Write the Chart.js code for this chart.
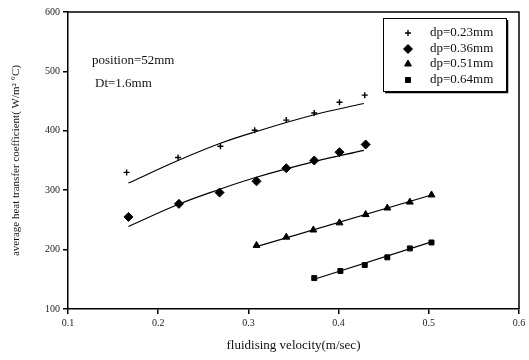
<!DOCTYPE html>
<html><head><meta charset="utf-8">
<script src="https://cdn.jsdelivr.net/npm/chart.js@4.4.1/dist/chart.umd.min.js"></script>
<style>html,body{margin:0;padding:0;background:#fff}#wrap{width:529px;height:360px}</style>
</head><body><div id="wrap"><canvas id="c" width="529" height="360"></canvas></div>
<script>
// ---- data ----
const seriesLabels = ['dp=0.23mm', 'dp=0.36mm', 'dp=0.51mm', 'dp=0.64mm'];
const x023 = [0.165, 0.222, 0.269, 0.307, 0.342, 0.373, 0.401, 0.429];
const y023 = [330, 355, 374, 401, 418, 430, 448, 460];
const x036 = [0.167, 0.223, 0.268, 0.309, 0.342, 0.373, 0.401, 0.430];
const y036 = [255, 277, 296, 315, 337, 350, 364, 377];
const x051 = [0.309, 0.342, 0.372, 0.401, 0.430, 0.454, 0.479, 0.503];
const y051 = [207, 221, 233, 245, 259, 270, 280, 292];
const x064 = [0.373, 0.402, 0.429, 0.454, 0.479, 0.503];
const y064 = [152, 164, 174, 187, 202, 212];
// fitted curves
const fitX023 = [0.167, 0.222, 0.269, 0.307, 0.373, 0.428];
const fitY023 = [312, 350, 379, 398, 427, 446];
const fitX036 = [0.167, 0.222, 0.269, 0.307, 0.373, 0.428];
const fitY036 = [239, 276, 302, 321, 348, 367];
const fitX051 = [0.309, 0.503];
const fitY051 = [205, 292];
const fitX064 = [0.373, 0.503];
const fitY064 = [150, 213];
const xTicks = [0.1, 0.2, 0.3, 0.4, 0.5, 0.6];
const yTicks = [100, 200, 300, 400, 500, 600];
const annotations = ['position=52mm', 'Dt=1.6mm'];
const xTitle = 'fluidising velocity(m/sec)';
const yTitle = 'average heat transfer coefficient( W/m\u00B2 \u00B0C)';

const pts = (xs, ys) => xs.map((x, i) => ({x: x, y: ys[i]}));
const styles = [
  {pointStyle: 'cross', radius: 3, bw: 1.4},
  {pointStyle: 'rectRot', radius: 4.5, bw: 1},
  {pointStyle: 'triangle', radius: 4, bw: 1},
  {pointStyle: 'rect', radius: 3.5, bw: 1}
];
const dataSets = [[x023, y023], [x036, y036], [x051, y051], [x064, y064]];
const fits = [[fitX023, fitY023, 0.4], [fitX036, fitY036, 0.4], [fitX051, fitY051, 0], [fitX064, fitY064, 0]];

const datasets = [];
fits.forEach(f => datasets.push({
  type: 'line', data: pts(f[0], f[1]), borderColor: '#000', borderWidth: 1.2,
  pointRadius: 0, tension: f[2], fill: false
}));
dataSets.forEach((d, i) => datasets.push({
  type: 'scatter', label: seriesLabels[i], data: pts(d[0], d[1]),
  pointStyle: styles[i].pointStyle, pointRadius: styles[i].radius,
  backgroundColor: '#000', borderColor: '#000', borderWidth: styles[i].bw, showLine: false
}));

const font = 'Liberation Serif';
const extras = {
  id: 'extras',
  afterDraw(chart) {
    const ctx = chart.ctx, a = chart.chartArea;
    ctx.save();
    ctx.strokeStyle = '#000'; ctx.lineWidth = 1.5;
    ctx.beginPath();
    ctx.moveTo(a.left, a.top); ctx.lineTo(a.right, a.top); ctx.lineTo(a.right, a.bottom);
    ctx.stroke();
    // annotations
    ctx.fillStyle = '#111'; ctx.font = '13px "' + font + '"';
    ctx.textBaseline = 'middle'; ctx.textAlign = 'left';
    ctx.fillText(annotations[0], 92, 61);
    ctx.fillText(annotations[1], 95, 84);
    // legend box
    const L = 383, T = 18, R = 506, B = 91;
    ctx.lineWidth = 1; ctx.strokeStyle = '#000';
    ctx.strokeRect(L + 0.5, T + 0.5, R - L, B - T);
    ctx.lineWidth = 1.5;
    ctx.beginPath();
    ctx.moveTo(L + 2, B + 1.5); ctx.lineTo(R + 1.5, B + 1.5); ctx.lineTo(R + 1.5, T + 2);
    ctx.stroke();
    const rows = [33, 49, 64, 80];
    seriesLabels.forEach((lab, i) => {
      const st = styles[i];
      ctx.fillStyle = '#000'; ctx.strokeStyle = '#000'; ctx.lineWidth = st.bw;
      Chart.helpers.drawPoint(ctx, {pointStyle: st.pointStyle, radius: st.radius, borderWidth: st.bw, rotation: 0}, 408, rows[i]);
      ctx.fillStyle = '#111';
      ctx.font = '13px "' + font + '"';
      ctx.fillText(lab, 430, rows[i]);
    });
    ctx.restore();
  }
};

new Chart(document.getElementById('c'), {
  data: {datasets: datasets},
  options: {
    responsive: false, animation: false, devicePixelRatio: 1,
    layout: {padding: {left: 0, top: 12, right: 10, bottom: 0}},
    plugins: {legend: {display: false}, tooltip: {enabled: false}},
    scales: {
      x: {
        type: 'linear', min: 0.1, max: 0.6,
        afterBuildTicks: s => { s.ticks = xTicks.map(v => ({value: v})); },
        afterFit: s => { s.height = 51; },
        grid: {drawOnChartArea: false, drawTicks: true, tickLength: 5, color: '#000', lineWidth: 1.5},
        border: {display: true, color: '#000', width: 1.5},
        ticks: {color: '#222', font: {family: font, size: 10}, padding: 3, maxRotation: 0,
                callback: v => v.toFixed(1)},
        title: {display: true, text: xTitle, color: '#111', font: {family: font, size: 13}, padding: {top: 0, bottom: 7}}
      },
      y: {
        type: 'linear', min: 100, max: 600,
        afterBuildTicks: s => { s.ticks = yTicks.map(v => ({value: v})); },
        afterFit: s => { s.width = 68; },
        grid: {drawOnChartArea: false, drawTicks: true, tickLength: 5, color: '#000', lineWidth: 1.5},
        border: {display: true, color: '#000', width: 1.5},
        ticks: {color: '#222', font: {family: font, size: 10}, padding: 3, callback: v => String(v)},
        title: {display: true, text: yTitle, color: '#111', font: {family: font, size: 11}, padding: {top: 10, bottom: 4}}
      }
    }
  },
  plugins: [extras]
});
</script>
</body></html>
